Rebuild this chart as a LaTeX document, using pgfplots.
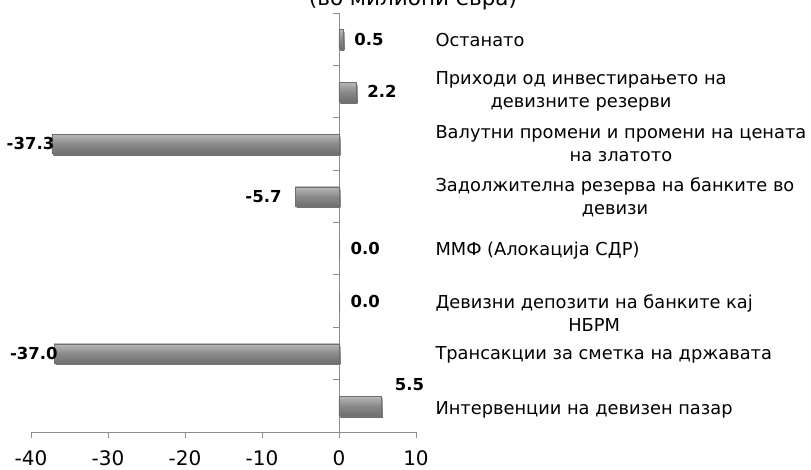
\documentclass[border=0pt]{standalone}
\usepackage{pgfplots}
\pgfplotsset{compat=1.18}
\usepackage{fontspec}
\setmainfont{DejaVu Sans}
\definecolor{axisgray}{HTML}{8C8C8C}
\definecolor{bartop}{HTML}{B8B8B8}
\definecolor{barmid}{HTML}{8A8A8A}
\definecolor{barbot}{HTML}{707070}
\begin{document}
\begin{tikzpicture}
\pgfplotsset{
  common/.style={at={(0pt,0pt)}, anchor=south west, scale only axis,
    width=385pt, height=419pt, xmin=-40, xmax=10, ymin=0.5, ymax=8.5},
  bars/.style={xbar, bar width=19pt, bar shift=0pt, draw=barbot, line width=0.4pt,
    top color=bartop, bottom color=barbot, middle color=barmid,
    preaction={fill=black!18, draw=none, transform canvas={xshift=1.5pt, yshift=-2pt}},
    nodes near coords, point meta=x,
    nodes near coords={\pgfmathprintnumber[fixed, fixed zerofill, precision=1]{\pgfplotspointmeta}},
    every node near coord/.append style={font=\fontsize{16.5}{20}\selectfont\bfseries, black}},
  posl/.style={every node near coord/.append style={anchor=west, xshift=8pt}},
}
\begin{axis}[common,
  xtick={-40,-30,...,10},
  ytick={0.5,1.5,...,8.5}, yticklabels={},
  axis x line*=bottom, axis y line*=middle,
  axis line style={axisgray, line width=0.8pt},
  tick style={axisgray, line width=0.8pt},
  major tick length=6pt, tick align=outside,
  xticklabel style={font=\fontsize{20}{24}\selectfont, black, yshift=-9pt},
  /pgf/number format/assume math mode=true,
  clip=false,
]
\addplot[bars, posl] coordinates {(0.5,8)};
\addplot[bars, posl] coordinates {(2.2,7)};
\addplot[bars, posl] coordinates {(0.0,4)};
\addplot[bars, posl] coordinates {(0.0,3)};
\addplot[bars, every node near coord/.append style={anchor=south west, xshift=10pt, yshift=12pt}]
  coordinates {(5.5,1)};
\addplot[bars, every node near coord/.append style={anchor=east, xshift=6pt}]
  coordinates {(-37.3,6)};
\addplot[bars, every node near coord/.append style={anchor=east, xshift=7pt}]
  coordinates {(-37.0,2)};
\addplot[bars, every node near coord/.append style={anchor=east, xshift=-10pt}]
  coordinates {(-5.7,5)};
\end{axis}
\begin{axis}[common,
  hide x axis, axis y line*=right, y axis line style={draw=none},
  ytick={0.92,1.97,2.77,3.97,4.99,6,7,7.98},
  major tick length=0pt,
  yticklabels={
    {Интервенции на девизен пазар},
    {Трансакции за сметка на државата},
    {Девизни депозити на банките кај\\НБРМ},
    {ММФ (Алокација СДР)},
    {Задолжителна резерва на банките во\\девизи},
    {Валутни промени и промени на цената\\на златото},
    {Приходи од инвестирањето на\\девизните резерви},
    {Останато}},
  yticklabel style={anchor=west, align=center, xshift=16pt,
    font=\fontsize{17.8}{23}\selectfont},
]
\end{axis}
\node[anchor=base, font=\fontsize{21.5}{25}\selectfont] at (382pt,426pt) {(во милиони евра)};
\pgfresetboundingbox
\useasboundingbox (-31pt,-38pt) rectangle (780pt,432pt);
\end{tikzpicture}
\end{document}
